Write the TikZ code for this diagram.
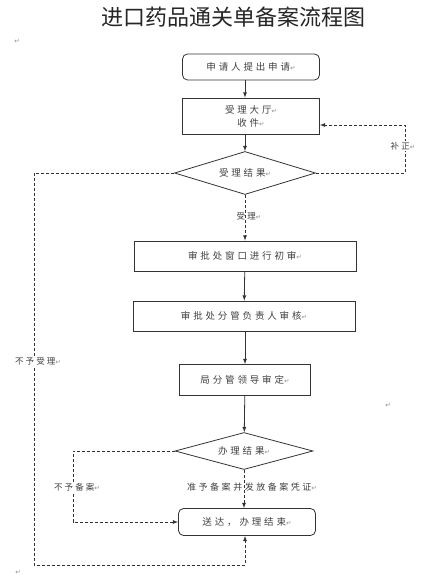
\documentclass[tikz,border=0pt]{standalone}
\usepackage{fontspec}
\setmainfont{Noto Sans CJK SC}
\newfontfamily\djv{DejaVu Sans}
\usetikzlibrary{arrows,shapes.geometric}
\newcommand{\pmk}{{\djv\fontsize{6.5}{7}\selectfont\color{black!45}↵}}
\tikzset{bx/.append style={draw=black!80, line width=0.8pt, inner sep=0pt, minimum height=30pt, text=black!75, align=center, font=\fontsize{9.5}{13}\selectfont\addfontfeature{LetterSpace=30}}}
\tikzset{rb/.append style={bx, rounded corners=5pt}}
\tikzset{dm/.append style={bx, diamond, aspect=3.2}}
\tikzset{sm/.append style={inner sep=1pt, text=black!75, font=\fontsize{8.5}{10}\selectfont\addfontfeature{LetterSpace=25}}}
\tikzset{ar/.append style={-latex, draw=black!80, line width=0.8pt}}
\tikzset{dl/.append style={ar, dash pattern=on 3pt off 2pt}}

\begin{document}
\begin{tikzpicture}[x=1pt,y=-1pt]
                \useasboundingbox (0,0) rectangle (430,575);
                % title
                \node[text=black!85, font=\fontsize{22}{26}\selectfont] (t) at (233,17) {进口药品通关单备案流程图};
                \node (p1) at (17,41) {\pmk};
                \node (p2) at (388,405) {\pmk};
                \node (p3) at (18,572) {\pmk};
                % boxes
                \node[rb, minimum width=137pt, minimum height=26pt] (a) at (251,67) {申请人提出申请\pmk};
                \node[bx, minimum width=137pt, minimum height=36pt] (b) at (251,116) {受理大厅\pmk\\收件\pmk};
                \node[dm, minimum width=141pt, minimum height=43pt] (c) at (245,173) {受理结果\pmk};
                \node[bx, minimum width=222pt] (d) at (245,256) {审批处窗口进行初审\pmk};
                \node[bx, minimum width=222pt] (e) at (244,316) {审批处分管负责人审核\pmk};
                \node[bx, minimum width=131pt, minimum height=31pt] (f) at (245,380) {局分管领导审定\pmk};
                \node[dm, minimum width=138pt, minimum height=37pt] (g) at (244,451) {办理结果\pmk};
                \node[rb, minimum width=137pt, minimum height=27pt] (h) at (247,522) {送达，办理结束\pmk};
                \coordinate (r1) at (405,125);
                \coordinate (l1) at (34,565);
                \coordinate (l2) at (73,522);
                % connectors
                \draw[ar] (a.south -| c.north) -- (b.north -| c.north);
                \draw[ar] (b.south -| c.north) -- (c.north);
                \path (d) edge[ar] (e) (e.south -| f.north) edge[ar] (f.north) (f) edge[ar] (g);
                \draw[dl] (c.east) -| (r1) -- (r1 -| b.east);
                \draw[dl] (c.west) -| (l1) -| (h.south -| c.south);
                \draw[dl] (g.west) -| (l2) -- (h.west);
                \draw[dl] (c.south) -- (d.north -| c.south);
                \draw[dl] (g.south) -- (h.north -| g.south);
                % labels
                \node[sm, fill=white] (n1) at (403,146) {补正\pmk};
                \node[sm, fill=white] (n2) at (38,361) {不予受理\pmk};
                \node[sm, fill=white] (n3) at (77,487) {不予备案\pmk};
                \node[sm] (n4) at (249,216) {受理\pmk};
                \node[sm, font=\fontsize{9}{11}\selectfont\addfontfeature{LetterSpace=28}] (n5) at (252,487) {准予备案并发放备案凭证\pmk};
            \end{tikzpicture}
\end{document}
